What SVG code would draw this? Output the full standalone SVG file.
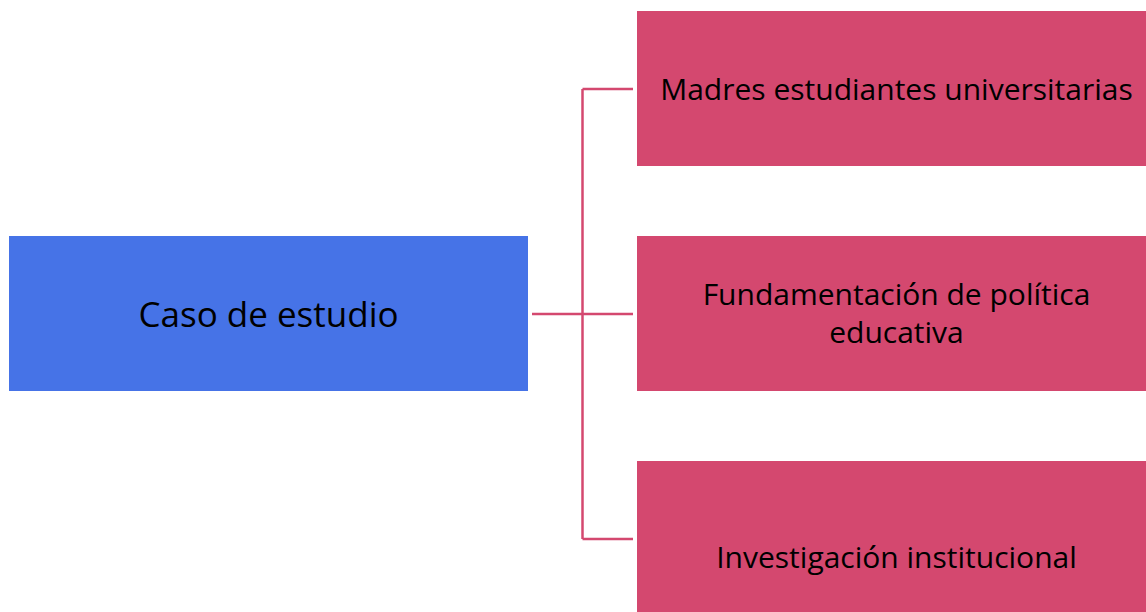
<svg xmlns="http://www.w3.org/2000/svg" width="1146" height="612" viewBox="0 0 1146 612">
<style>
.pink{fill:#d4486f}
.blue{fill:#4673e7}
.lbl{font-family:"Open Sans","Liberation Sans",Arial,sans-serif;font-size:30px;fill:#000;text-anchor:middle}
.big{font-size:35px}
.conn{stroke:#d4486f;stroke-width:2.5;fill:none}
</style>
<rect width="1146" height="612" fill="#fff"/>
<g id="connectors">
<path class="conn" d="M582.5,89 V539"/>
<path class="conn" d="M582.5,89 H633"/>
<path class="conn" d="M532,314 H633"/>
<path class="conn" d="M582.5,539 H633"/>
</g>
<g id="caso">
<rect class="blue" x="9" y="236" width="519" height="155"/>
<text class="lbl big" x="268.5" y="327">Caso de estudio</text>
</g>
<g id="madres">
<rect class="pink" x="637" y="11" width="519" height="155"/>
<text class="lbl" x="896.5" y="100">Madres estudiantes universitarias</text>
</g>
<g id="fundamentacion">
<rect class="pink" x="637" y="236" width="519" height="155"/>
<text class="lbl" x="896.5" y="305">Fundamentación de política</text>
<text class="lbl" x="896.5" y="343">educativa</text>
</g>
<g id="investigacion">
<rect class="pink" x="637" y="461" width="519" height="155"/>
<text class="lbl" x="896.5" y="568">Investigación institucional</text>
</g>
</svg>
